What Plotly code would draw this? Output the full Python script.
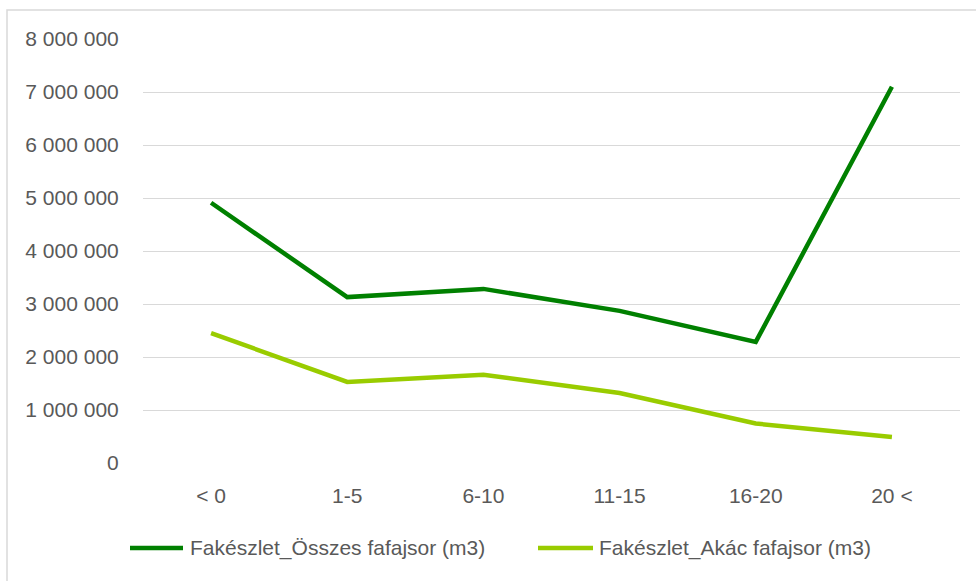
import plotly.graph_objects as go

categories = ["< 0", "1-5", "6-10", "11-15", "16-20", "20 <"]
osszes = [4910000, 3130000, 3285000, 2870000, 2285000, 7100000]
akac = [2450000, 1530000, 1665000, 1320000, 745000, 490000]
y_ticks = [0, 1000000, 2000000, 3000000, 4000000, 5000000, 6000000, 7000000, 8000000]
series_names = ["Fakészlet_Összes fafajsor (m3)", "Fakészlet_Akác fafajsor (m3)"]
series_colors = ["#008000", "#99CC00"]

font_family = "Liberation Sans, Arial, sans-serif"
text_color = "#595959"

W, H = 976, 581
L, R, T, B = 143, 16, 39, 118
PW, PH = W - L - R, H - T - B


def px(x):
    return (x - L) / PW


def py(y):
    return (H - B - y) / PH


fig = go.Figure()
for name, vals, col in zip(series_names, [osszes, akac], series_colors):
    fig.add_trace(go.Scatter(x=categories, y=vals, mode="lines", name=name,
                             showlegend=False, hoverinfo="skip",
                             line=dict(color=col, width=4.5)))

# manual legend (key lines + labels)
legend_keys = [(130, 183, 188), (538, 593, 597)]
shapes = [dict(type="rect", xref="paper", yref="paper",
               x0=px(7), x1=px(990), y0=py(600), y1=py(10),
               line=dict(color="#D9D9D9", width=1.5), fillcolor="rgba(0,0,0,0)",
               layer="below")]
annotations = []
for (x0, x1, xt), name, col in zip(legend_keys, series_names, series_colors):
    shapes.append(dict(type="line", xref="paper", yref="paper",
                       x0=px(x0), x1=px(x1), y0=py(548), y1=py(548),
                       line=dict(color=col, width=4.5)))
    annotations.append(dict(xref="paper", yref="paper", x=px(xt), y=py(548),
                            xanchor="left", yanchor="middle", showarrow=False,
                            text=name, font=dict(size=21, color=text_color)))

fig.update_layout(
    width=W, height=H,
    margin=dict(l=L, r=R, t=T, b=B),
    paper_bgcolor="white", plot_bgcolor="white",
    separators=", ",
    font=dict(family=font_family, size=21, color=text_color),
    showlegend=False,
    hovermode=False,
    xaxis=dict(type="category", showgrid=False, zeroline=False, showline=False,
               ticks="outside", ticklen=14, tickcolor="rgba(0,0,0,0)",
               range=[-0.5, 5.5]),
    yaxis=dict(range=[0, 8000000], tickvals=y_ticks, tickformat=",d",
               showgrid=True, gridcolor="#D9D9D9", gridwidth=1, zeroline=False,
               showline=False, ticks="outside", ticklen=19,
               tickcolor="rgba(0,0,0,0)"),
    shapes=shapes,
    annotations=annotations,
)

fig.write_html("out.html", config={"displayModeBar": False},
               post_script="document.body.style.margin='0px';document.body.style.overflow='hidden';")
